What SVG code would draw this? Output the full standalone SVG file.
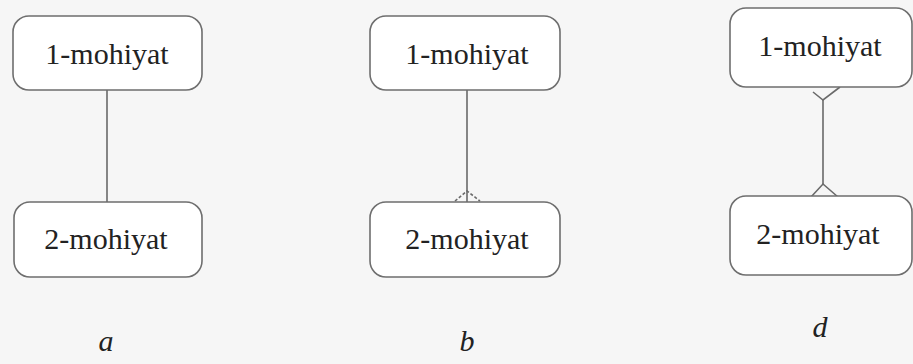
<svg xmlns="http://www.w3.org/2000/svg" width="913" height="364" viewBox="0 0 913 364">
<style>
.box{fill:#ffffff;stroke:#6e6e6e;stroke-width:1.6}
.t{font-family:"Liberation Serif","Times New Roman",serif;font-size:30px;fill:#222222;text-anchor:middle}
.lbl{font-family:"Liberation Serif","Times New Roman",serif;font-size:30px;font-style:italic;fill:#222222;text-anchor:middle}
.c{fill:none;stroke:#6a6a6a;stroke-width:1.6}
</style>
<rect width="913" height="364" fill="#f6f6f6"/>
<g id="connectors">
<line class="c" x1="107" y1="90" x2="107" y2="202"/>
<line class="c" x1="467" y1="90" x2="467" y2="202"/>
<path class="c" d="M455 201 L467 191 L480 201" stroke-dasharray="3 2"/>
<line class="c" x1="823" y1="100" x2="823" y2="184"/>
<path class="c" d="M813 92 L823 100 L840 87"/>
<path class="c" d="M811 197 L823 184 L838 197"/>
</g>
<g id="a1"><rect class="box" x="13" y="16" width="189" height="74" rx="16"/><text class="t" x="107" y="64">1-mohiyat</text></g>
<g id="a2"><rect class="box" x="14" y="202" width="188" height="75" rx="16"/><text class="t" x="106" y="249">2-mohiyat</text></g>
<g id="b1"><rect class="box" x="370" y="16" width="190" height="74" rx="16"/><text class="t" x="467" y="64">1-mohiyat</text></g>
<g id="b2"><rect class="box" x="370" y="202" width="190" height="75" rx="16"/><text class="t" x="467" y="249">2-mohiyat</text></g>
<g id="d1"><rect class="box" x="730" y="8" width="182" height="79" rx="16"/><text class="t" x="820" y="56">1-mohiyat</text></g>
<g id="d2"><rect class="box" x="730" y="196" width="182" height="79" rx="16"/><text class="t" x="818" y="244">2-mohiyat</text></g>
<g id="labels">
<text class="lbl" x="106" y="351">a</text>
<text class="lbl" x="467" y="351">b</text>
<text class="lbl" x="820" y="337">d</text>
</g>
</svg>
